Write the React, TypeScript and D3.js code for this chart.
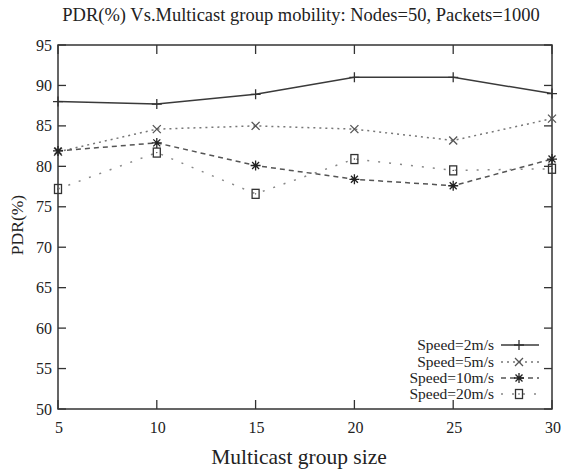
import React from "react";
import * as d3 from "d3";

const groupSizes = [5, 10, 15, 20, 25, 30];
const speed2 = [88.0, 87.7, 88.9, 91.0, 91.0, 89.0];
const speed5 = [81.8, 84.6, 85.0, 84.6, 83.2, 85.9];
const speed10 = [81.9, 82.9, 80.1, 78.4, 77.6, 80.9];
const speed20 = [77.2, 81.7, 76.6, 80.9, 79.5, 79.7];
const seriesNames = ["Speed=2m/s", "Speed=5m/s", "Speed=10m/s", "Speed=20m/s"];
const xTicks = [5, 10, 15, 20, 25, 30];
const yTicks = [50, 55, 60, 65, 70, 75, 80, 85, 90, 95];

const W = 561, H = 473;
const L = 58, R = 552, T = 45, B = 409;
const font = "Liberation Serif";

function Marker({ kind, x, y, color }: { kind: number; x: number; y: number; color: string }) {
  const s = 5;
  if (kind === 0)
    return <path d={`M${x - s},${y}H${x + s}M${x},${y - s}V${y + s}`} stroke={color} strokeWidth={1.3} />;
  if (kind === 1)
    return <path d={`M${x - 4},${y - 4}L${x + 4},${y + 4}M${x - 4},${y + 4}L${x + 4},${y - 4}`} stroke={color} strokeWidth={1.3} />;
  if (kind === 2)
    return (
      <path
        d={`M${x - 5},${y}H${x + 5}M${x},${y - 5}V${y + 5}M${x - 3.5},${y - 3.5}L${x + 3.5},${y + 3.5}M${x - 3.5},${y + 3.5}L${x + 3.5},${y - 3.5}`}
        stroke={color}
        strokeWidth={1.3}
      />
    );
  return (
    <g>
      <rect x={x - 3.5} y={y - 4.5} width={7} height={9} fill="none" stroke={color} strokeWidth={1.3} />
      <circle cx={x} cy={y} r={0.7} fill={color} />
    </g>
  );
}

export default function App() {
  const x = d3.scaleLinear().domain([5, 30]).range([L, R]);
  const y = d3.scaleLinear().domain([50, 95]).range([B, T]);
  const series = [speed2, speed5, speed10, speed20];
  const dashes = ["none", "2,4", "5,4", "2,9"];
  const colors = ["#3a3a3a", "#777", "#555", "#888"];
  const markerColors = ["#333", "#555", "#222", "#333"];
  const line = d3
    .line<number>()
    .x((_, i) => x(groupSizes[i]))
    .y((d) => y(d));
  const legendY = [345, 362, 378, 394];
  return (
    <svg width={W} height={H} style={{ position: "absolute", left: 0, top: 0, background: "#fff" }}>
      <rect width={W} height={H} fill="#fff" />
      <text x={301} y={21} textAnchor="middle" fontFamily={font} fontSize={18.5} fill="#222">
        PDR(%) Vs.Multicast group mobility: Nodes=50, Packets=1000
      </text>
      {yTicks.map((t) => (
        <g key={"y" + t}>
          <line x1={L} x2={L + 8} y1={y(t)} y2={y(t)} stroke="#333" strokeWidth={1.3} />
          <line x1={R} x2={R - 8} y1={y(t)} y2={y(t)} stroke="#333" strokeWidth={1.3} />
          <text x={52} y={y(t) + 5.5} textAnchor="end" fontFamily={font} fontSize={16} fill="#222">
            {t}
          </text>
        </g>
      ))}
      {xTicks.map((t) => (
        <g key={"x" + t}>
          <line x1={x(t)} x2={x(t)} y1={B} y2={B - 9} stroke="#333" strokeWidth={1.3} />
          <line x1={x(t)} x2={x(t)} y1={T} y2={T + 9} stroke="#333" strokeWidth={1.3} />
          <text x={x(t) + 1} y={432.5} textAnchor="middle" fontFamily={font} fontSize={16} fill="#222">
            {t}
          </text>
        </g>
      ))}
      <rect x={L} y={T} width={R - L} height={B - T} fill="none" stroke="#333" strokeWidth={1.5} />
      {series.map((s, k) => (
        <g key={"s" + k}>
          <path d={line(s) || ""} fill="none" stroke={colors[k]} strokeWidth={1.5} strokeDasharray={dashes[k]} />
          {s.map((v, i) => (
            <Marker key={i} kind={k} x={x(groupSizes[i])} y={y(v)} color={markerColors[k]} />
          ))}
        </g>
      ))}
      {seriesNames.map((n, k) => (
        <g key={"l" + k}>
          <text x={494} y={legendY[k] + 5} textAnchor="end" fontFamily={font} fontSize={15.5} fill="#222">
            {n}
          </text>
          <line x1={501} x2={539} y1={legendY[k]} y2={legendY[k]} stroke={colors[k]} strokeWidth={1.5} strokeDasharray={dashes[k]} />
          <Marker kind={k} x={519} y={legendY[k]} color={markerColors[k]} />
        </g>
      ))}
      <text
        transform={`translate(23,225) rotate(-90)`}
        textAnchor="middle"
        fontFamily={font}
        fontSize={17.5}
        fill="#222"
      >
        PDR(%)
      </text>
      <text x={299} y={464} textAnchor="middle" fontFamily={font} fontSize={21.5} fill="#222">
        Multicast group size
      </text>
    </svg>
  );
}
